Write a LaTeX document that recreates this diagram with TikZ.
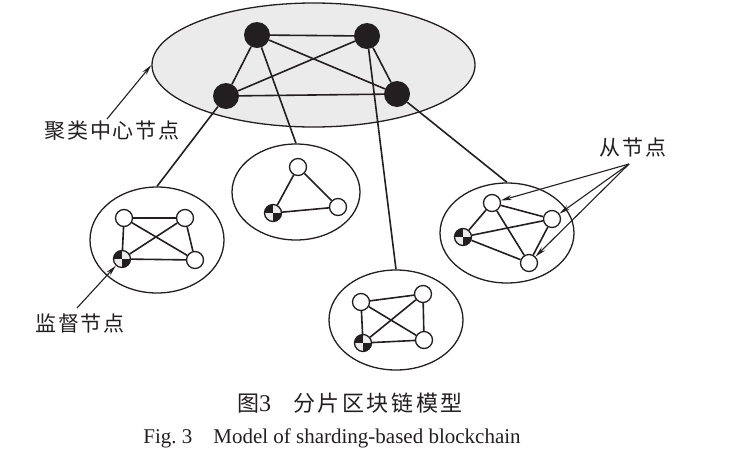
\documentclass[tikz,border=0pt]{standalone}
\usepackage{fontspec}
\setmainfont{Liberation Serif}
\newfontfamily\cjk{Noto Sans CJK SC}
\newfontfamily\cjkwide{Noto Sans CJK SC}[LetterSpace=8]
\newfontfamily\cjkcap{Noto Sans CJK SC}[LetterSpace=12]
\usetikzlibrary{shapes.geometric,arrows.meta}
\definecolor{ink}{HTML}{231F20}
\definecolor{shade}{HTML}{EBEBEB}
\begin{document}
\begin{tikzpicture}[x=1pt,y=-1pt,
  edge/.style={line width=1.6pt, draw=ink},
  bignode/.style={circle, fill=ink, minimum size=26pt, inner sep=0pt},
  smallnode/.style={circle, draw=ink, fill=white, line width=1.3pt, minimum size=17pt, inner sep=0pt},
  supnode/.style={smallnode, fill=shade, path picture={\fill[ink] (path picture bounding box.center) rectangle (path picture bounding box.north west); \fill[ink] (path picture bounding box.center) rectangle (path picture bounding box.south east);}},
  cluster/.style={ellipse, draw=ink, line width=1.3pt, inner sep=0pt},
  lbl/.style={font=\cjkwide\fontsize{21}{24}\selectfont, text=ink, inner sep=0pt},
  arr/.style={line width=1.1pt, draw=ink, -{Stealth[length=11pt,width=5pt]}}
]
\useasboundingbox (0,0) rectangle (741,456);
% main ellipse
\node[cluster, fill=shade, minimum width=323pt, minimum height=124pt] (E) at (313.5,65) {};
% clusters
\node[cluster, minimum width=134pt, minimum height=106pt] (EL) at (157,240) {};
\node[cluster, minimum width=128pt, minimum height=96pt] (ET) at (296,192) {};
\node[cluster, minimum width=134pt, minimum height=100pt] (EM) at (396,320) {};
\node[cluster, minimum width=134pt, minimum height=100pt] (ER) at (507,233) {};
% big nodes
\node[bignode] (A) at (257,35) {};
\node[bignode] (B) at (367,36) {};
\node[bignode] (C) at (226,96) {};
\node[bignode] (D) at (397,94) {};
% left cluster
\node[smallnode] (L1) at (124,218) {};
\node[smallnode] (L2) at (185,218) {};
\node[supnode] (Ls) at (122,259) {};
\node[smallnode] (L3) at (195,260) {};
% triangle cluster
\node[smallnode] (T1) at (298,167) {};
\node[supnode] (Ts) at (273,213) {};
\node[smallnode] (T2) at (338,207) {};
% bottom cluster
\node[smallnode] (M1) at (361,302) {};
\node[smallnode] (M2) at (423,294) {};
\node[supnode] (Ms) at (363,343) {};
\node[smallnode] (M3) at (424,340) {};
% right cluster
\node[smallnode] (R1) at (492,203) {};
\node[smallnode] (R2) at (552,219) {};
\node[supnode] (Rs) at (463,237) {};
\node[smallnode] (R3) at (529,263) {};
% edges
\foreach \a/\b in {A/B,A/C,A/D,B/C,B/D,C/D,
  L1/L2,L1/Ls,L1/L3,L2/Ls,L2/L3,Ls/L3,
  T1/Ts,T1/T2,Ts/T2,
  M1/M2,M1/Ms,M1/M3,M2/Ms,M2/M3,Ms/M3,
  R1/R2,R1/Rs,R1/R3,R2/Rs,R2/R3,Rs/R3}
  \draw[edge] (\a) -- (\b);
\draw[edge] (C) -- (EL.north);
\draw[edge] (A) -- (ET.north);
\draw[edge] (B) -- (EM.north);
\draw[edge] (D) -- (ER.north);
% labels
\node[lbl] (lc) at (112,131) {聚类中心节点};
\node[lbl] (ls) at (80,323) {监督节点};
\node[lbl] (lf) at (633,148) {从节点};
\coordinate (ca) at (107,119);
\coordinate (sa) at (77,308);
\coordinate (fa) at (629,164);
\draw[arr] (ca) -- (E.west);
\draw[arr] (sa) -- (Ls);
\draw[arr] (fa) -- (R1);
\draw[arr] (fa) -- (R2);
\draw[arr] (fa) -- (R3);
% captions
\node[font=\cjkcap\fontsize{22}{26}\selectfont, text=ink, inner sep=0pt] (cap1) at (350,403) {图{\rmfamily\fontsize{24}{26}\selectfont 3}\hspace{1em}分片区块链模型};
\node[font=\fontsize{21}{24}\selectfont, text=ink, inner sep=0pt] (cap2) at (332,438) {Fig.~3\hspace{1em}Model of sharding-based blockchain};
\end{tikzpicture}
\end{document}
